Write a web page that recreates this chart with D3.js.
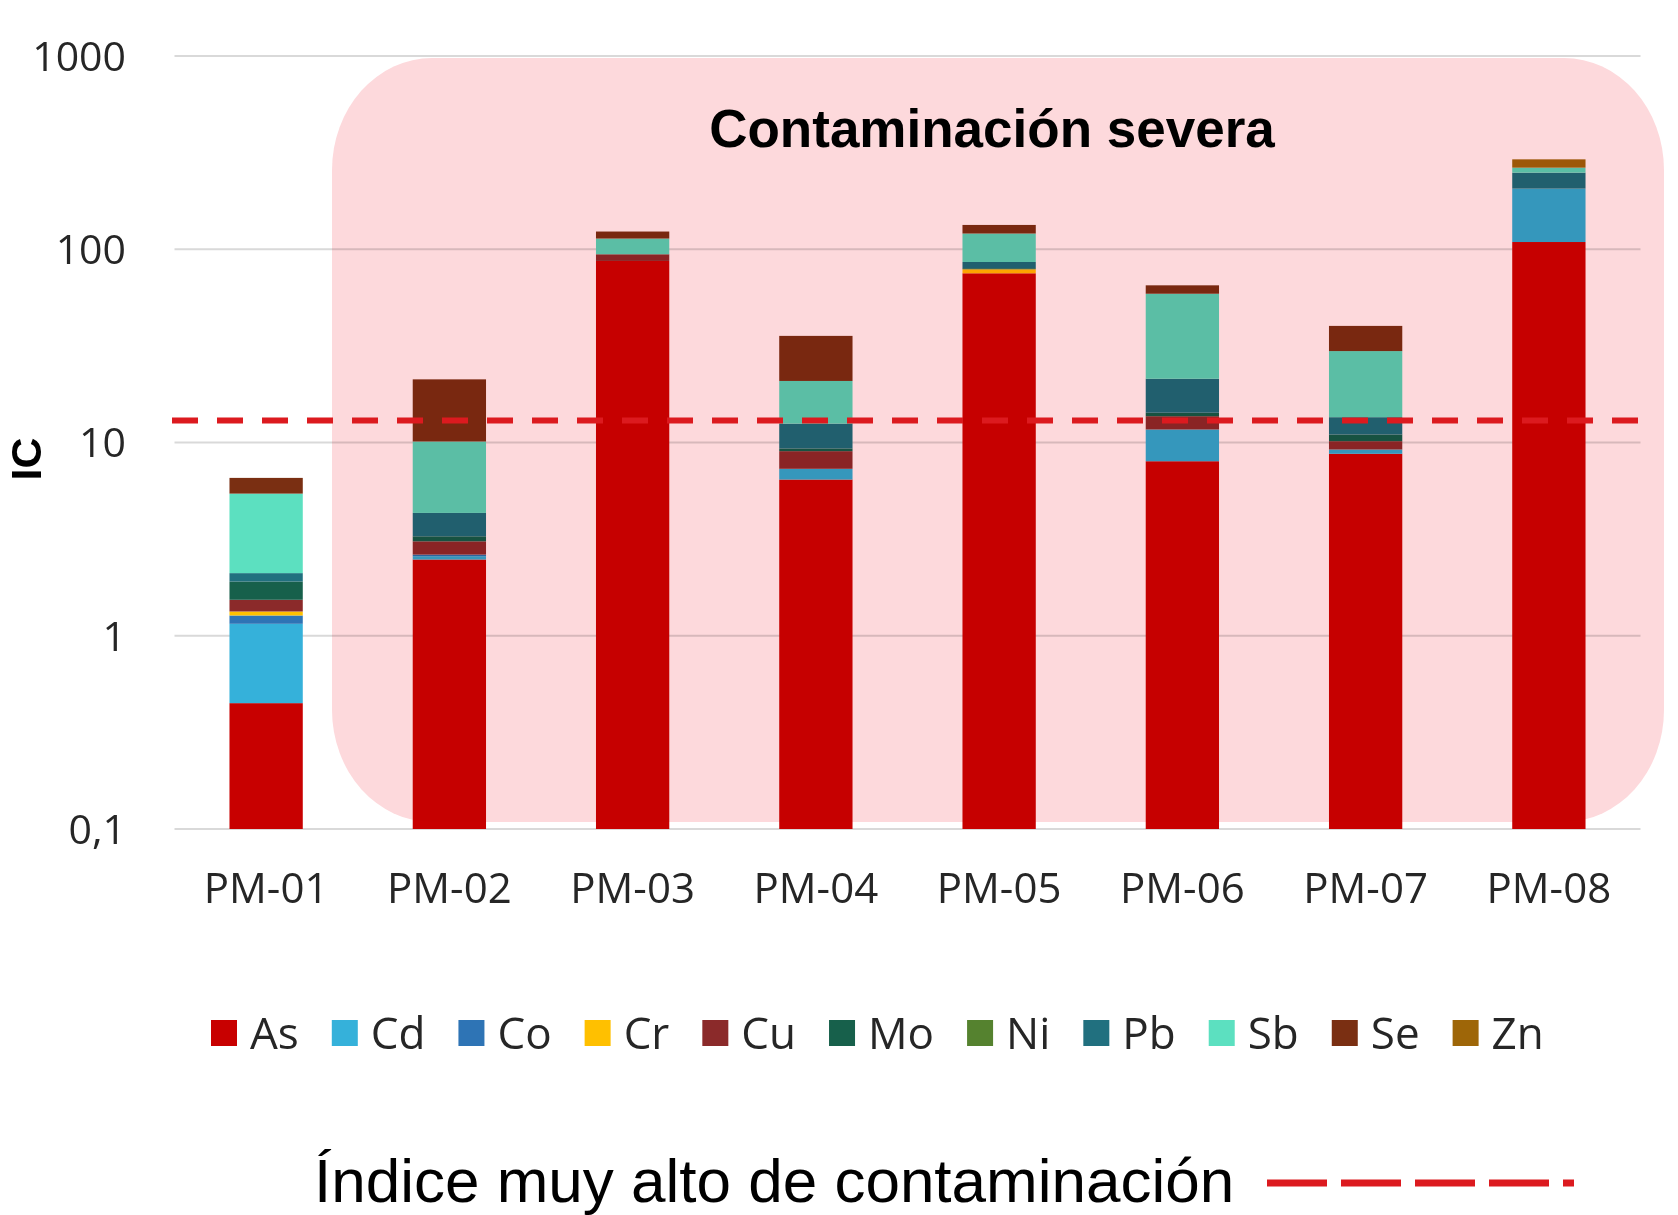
<!DOCTYPE html>
<html lang="es">
<head>
<meta charset="UTF-8">
<title>IC por punto de muestreo</title>
<script src="https://cdn.jsdelivr.net/npm/d3@7"></script>
<style>
    body { margin: 0; background: #fff; }
    svg text { font-family: "Open Sans", sans-serif; fill: #262626; }
</style>
</head>
<body>
<svg id="chart" width="1678" height="1215"></svg>
<script>
    // sampling points
    var sites = ["PM-01", "PM-02", "PM-03", "PM-04", "PM-05", "PM-06", "PM-07", "PM-08"];

    // elements (stack order bottom -> top) and their colours
    var elements = ["As", "Cd", "Co", "Cr", "Cu", "Mo", "Ni", "Pb", "Sb", "Se", "Zn"];
    var colors   = ["#c80000", "#35b1da", "#2e74b5", "#ffc000", "#8b2a2a", "#17604b", "#55822f", "#21707f", "#5ce0c0", "#7a2f12", "#9e6608"];

    // contamination index per element
    var As = [0.448, 2.48, 87,  6.43, 75.1, 8.0,  8.74, 109];
    var Cd = [0.705, 0.10, 0,   0.88, 0,    3.68, 0.46, 97];
    var Co = [0.12,  0.05, 0,   0,    0,    0,    0,    0];
    var Cr = [0.062, 0,    0,   0,    3.7,  0,    0,    0];
    var Cu = [0.20,  0.45, 7.2, 1.71, 0,    2.0,  0.96, 0];
    var Mo = [0.374, 0.19, 0,   0.30, 1.0,  0.58, 0.84, 0];
    var Ni = [0,     0,    0,   0,    0,    0,    0,    0];
    var Pb = [0.20,  1.05, 0,   3.2,  6.1,  7.1,  2.52, 43];
    var Sb = [3.33,  5.8,  19.4, 8.3, 34.7, 37.5, 16.2, 15.4];
    var Se = [1.12,  11.1, 9.9, 14.8, 13,   6.2,  10.4, 0];
    var Zn = [0,     0,    0,   0,    0,    0,    0,    27.5];

    var threshold = 13;   // "Índice muy alto de contaminación"

    var yTicks = [0.1, 1, 10, 100, 1000];
    var yTickLabels = ["0,1", "1", "10", "100", "1000"];

    var series = [As, Cd, Co, Cr, Cu, Mo, Ni, Pb, Sb, Se, Zn];

    var rows = sites.map(function (s, i) {
        var r = { site: s };
        elements.forEach(function (el, k) { r[el] = series[k][i]; });
        return r;
    });

    var svg = d3.select("#chart");

    var x = d3.scaleBand().domain(sites).range([174.5, 1640.5]).paddingInner(0.6).paddingOuter(0.3);
    var y = d3.scaleLog().domain([0.1, 1000]).range([829, 56]);
    var color = d3.scaleOrdinal().domain(elements).range(colors);

    // grid lines
    svg.append("g").selectAll("line")
        .data(yTicks)
        .enter().append("line")
        .attr("x1", 174.5).attr("x2", 1640.5)
        .attr("y1", function (d) { return y(d); })
        .attr("y2", function (d) { return y(d); })
        .attr("stroke", "#d9d9d9")
        .attr("stroke-width", 2);

    // y labels
    svg.append("g").selectAll("text")
        .data(yTicks)
        .enter().append("text")
        .attr("x", 126)
        .attr("y", function (d) { return y(d); })
        .attr("dy", "0.36em")
        .attr("text-anchor", "end")
        .style("font-size", "41px")
        .text(function (d, i) { return yTickLabels[i]; });

    // stacked bars
    var stacked = d3.stack().keys(elements)(rows);

    svg.append("g").selectAll("g")
        .data(stacked)
        .enter().append("g")
        .attr("fill", function (d) { return color(d.key); })
        .selectAll("rect")
        .data(function (d) { return d.filter(function (p) { return p[1] - p[0] > 0; }); })
        .enter().append("rect")
        .attr("x", function (d) { return x(d.data.site); })
        .attr("width", x.bandwidth())
        .attr("y", function (d) { return y(d[1]); })
        .attr("height", function (d) { return y(Math.max(d[0], 0.1)) - y(d[1]); });

    // "Contaminación severa" box, laid over the bars
    svg.append("rect")
        .attr("x", 332).attr("y", 58)
        .attr("width", 1332).attr("height", 764)
        .attr("rx", 100).attr("ry", 112)
        .attr("fill", "#fdd9dc")
        .style("mix-blend-mode", "multiply");

    svg.append("text")
        .attr("x", 992).attr("y", 147)
        .attr("text-anchor", "middle")
        .style("font-family", "'Liberation Sans', Arial, sans-serif")
        .style("font-weight", "bold")
        .style("font-size", "53px")
        .style("fill", "#000")
        .text("Contaminación severa");

    // threshold line
    svg.append("line")
        .attr("x1", 172).attr("x2", 1653)
        .attr("y1", y(threshold)).attr("y2", y(threshold))
        .attr("stroke", "#dc1a1f")
        .attr("stroke-width", 6)
        .attr("stroke-dasharray", "26,19");

    // x labels
    svg.append("g").selectAll("text")
        .data(sites)
        .enter().append("text")
        .attr("x", function (d) { return x(d) + x.bandwidth() / 2; })
        .attr("y", 888)
        .attr("dy", "0.36em")
        .attr("text-anchor", "middle")
        .style("font-size", "42px")
        .text(function (d) { return d; });

    // y title
    svg.append("text")
        .attr("transform", "translate(41,459) rotate(-90)")
        .attr("text-anchor", "middle")
        .style("font-family", "'Liberation Sans', Arial, sans-serif")
        .style("font-weight", "bold")
        .style("font-size", "43px")
        .style("fill", "#000")
        .text("IC");

    // legend
    var legend = svg.append("g");
    var lx = 211, ly = 1033;
    elements.forEach(function (el) {
        var item = legend.append("g").attr("transform", "translate(" + lx + "," + ly + ")");
        item.append("rect")
            .attr("x", 0).attr("y", -13)
            .attr("width", 26).attr("height", 26)
            .attr("fill", color(el));
        var t = item.append("text")
            .attr("x", 39).attr("dy", "0.36em")
            .style("font-size", "44px")
            .text(el);
        lx += 39 + t.node().getComputedTextLength() + 33;
    });

    // threshold legend
    svg.append("text")
        .attr("x", 314).attr("y", 1202)
        .style("font-family", "'Liberation Sans', Arial, sans-serif")
        .style("font-size", "62px")
        .style("fill", "#000")
        .text("Índice muy alto de contaminación");

    svg.append("line")
        .attr("x1", 1267).attr("x2", 1574)
        .attr("y1", 1183).attr("y2", 1183)
        .attr("stroke", "#dc1a1f")
        .attr("stroke-width", 7)
        .attr("stroke-dasharray", "60,14");
</script>
</body>
</html>
